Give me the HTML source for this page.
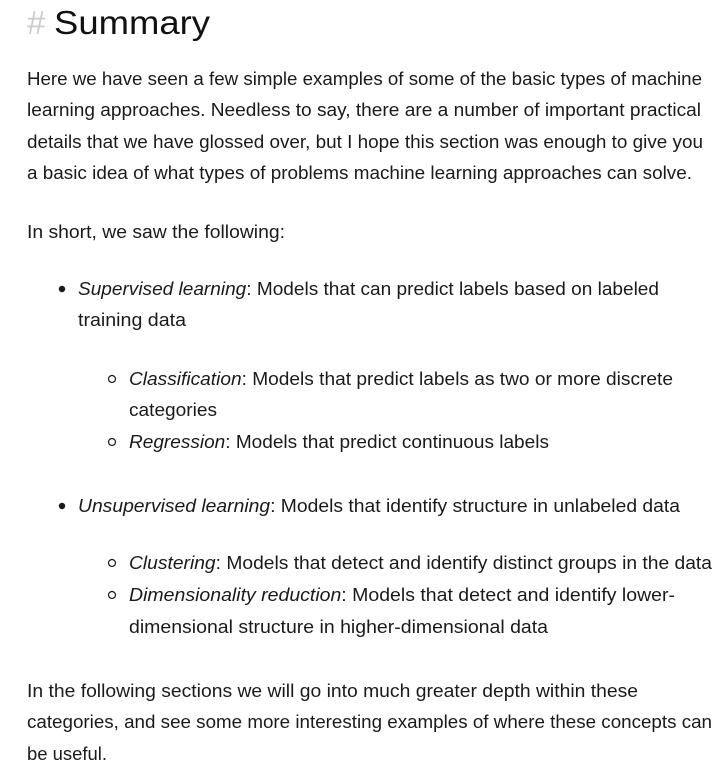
<!DOCTYPE html>
<html><head><meta charset="utf-8">
<style>
html,body{margin:0;padding:0;background:#fff;}
svg{display:block;}
text{font-family:"Liberation Sans",sans-serif;font-size:18px;fill:#1a1a1a;}
.i{font-style:italic;}
</style></head>
<body>
<svg width="727" height="762" viewBox="0 0 727 762">
  <text x="27" y="34" style="font-size:33px;fill:#ccc">#</text>
  <text x="54" y="34" style="font-size:33px;fill:#111" textLength="156" lengthAdjust="spacingAndGlyphs">Summary</text>

  <g>
    <text x="27" y="85" textLength="675" lengthAdjust="spacingAndGlyphs">Here we have seen a few simple examples of some of the basic types of machine</text>
    <text x="27" y="116" textLength="674" lengthAdjust="spacingAndGlyphs">learning approaches. Needless to say, there are a number of important practical</text>
    <text x="27" y="148" textLength="676" lengthAdjust="spacingAndGlyphs">details that we have glossed over, but I hope this section was enough to give you</text>
    <text x="27" y="179" textLength="665" lengthAdjust="spacingAndGlyphs">a basic idea of what types of problems machine learning approaches can solve.</text>
  </g>

  <text x="27" y="238" textLength="258" lengthAdjust="spacingAndGlyphs">In short, we saw the following:</text>

  <g>
    <circle cx="62" cy="289" r="3.2" fill="#1a1a1a"/>
    <text x="78" y="295" textLength="581" lengthAdjust="spacingAndGlyphs"><tspan class="i">Supervised learning</tspan>: Models that can predict labels based on labeled</text>
    <text x="78" y="326" textLength="108" lengthAdjust="spacingAndGlyphs">training data</text>
  </g>
  <g>
    <circle cx="112" cy="379" r="3.5" fill="none" stroke="#1a1a1a" stroke-width="1.2"/>
    <text x="129" y="385" textLength="544" lengthAdjust="spacingAndGlyphs"><tspan class="i">Classification</tspan>: Models that predict labels as two or more discrete</text>
    <text x="129" y="416" textLength="88" lengthAdjust="spacingAndGlyphs">categories</text>
  </g>
  <g>
    <circle cx="112" cy="442" r="3.5" fill="none" stroke="#1a1a1a" stroke-width="1.2"/>
    <text x="129" y="448" textLength="420" lengthAdjust="spacingAndGlyphs"><tspan class="i">Regression</tspan>: Models that predict continuous labels</text>
  </g>

  <g>
    <circle cx="62" cy="506" r="3.2" fill="#1a1a1a"/>
    <text x="78" y="512" textLength="602" lengthAdjust="spacingAndGlyphs"><tspan class="i">Unsupervised learning</tspan>: Models that identify structure in unlabeled data</text>
  </g>
  <g>
    <circle cx="112" cy="563" r="3.5" fill="none" stroke="#1a1a1a" stroke-width="1.2"/>
    <text x="129" y="569" textLength="583" lengthAdjust="spacingAndGlyphs"><tspan class="i">Clustering</tspan>: Models that detect and identify distinct groups in the data</text>
  </g>
  <g>
    <circle cx="112" cy="595" r="3.5" fill="none" stroke="#1a1a1a" stroke-width="1.2"/>
    <text x="129" y="601" textLength="546" lengthAdjust="spacingAndGlyphs"><tspan class="i">Dimensionality reduction</tspan>: Models that detect and identify lower-</text>
    <text x="129" y="633" textLength="419" lengthAdjust="spacingAndGlyphs">dimensional structure in higher-dimensional data</text>
  </g>

  <g>
    <text x="27" y="697" textLength="611" lengthAdjust="spacingAndGlyphs">In the following sections we will go into much greater depth within these</text>
    <text x="27" y="728" textLength="685" lengthAdjust="spacingAndGlyphs">categories, and see some more interesting examples of where these concepts can</text>
    <text x="27" y="760" textLength="80" lengthAdjust="spacingAndGlyphs">be useful.</text>
  </g>
</svg>
</body></html>
